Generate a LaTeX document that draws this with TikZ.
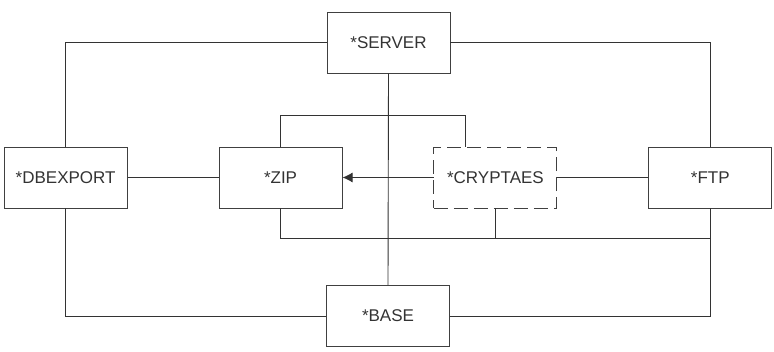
\documentclass[tikz,border=0pt]{standalone}
\usepackage{fontspec}
\setmainfont{Liberation Sans}
\usetikzlibrary{arrows.meta}
\begin{document}
\begin{tikzpicture}[x=1pt,y=-1pt,
	bx/.style={minimum width=123pt,minimum height=61pt,inner sep=0pt,draw=black!75,line width=0.9pt,text=black!80,font=\fontsize{17}{20}\selectfont},
	dsh/.style={bx,dash pattern=on 14pt off 6pt},
	ln/.style={draw=black!80,line width=0.9pt}]
	\useasboundingbox (0,0) rectangle (774,351);
	\matrix at (388,177.5) [column sep=91pt] {
		\node(p1)[bx] {*DBEXPORT};&
		\node(p2)[bx] {*ZIP};&
		\node(p3)[dsh] {*CRYPTAES};&
		\node(p4)[bx] {*FTP};
		\\ };
	\node(srv)[bx] at (388.5,42.5) {*SERVER};
	\node(base)[bx] at (388,316) {*BASE};
	\draw[ln] (srv.west) -| (p1.north);
	\draw[ln] (srv.east) -| (p4.north);
	\draw[ln] (p1.south) |- (base.west);
	\draw[ln] (p4.south) |- (base.east);
	\draw[ln] (srv.south) -- (base.north);
	\draw[ln] (p1) -- (p2);
	\draw[ln] (p3) -- (p4);
	\draw[ln,-{Latex[length=10pt,width=10pt]}] (p3.west) -- (p2.east);
	\draw[ln] (p2.north) -- ++(0,-31) -| ([xshift=-30pt]p3.north);
	\draw[ln] (p2.south) -- ++(0,30) coordinate(bus) -| (p4.south);
	\draw[ln] (p3.south) -- (p3.south |- bus);
\end{tikzpicture}
\end{document}
